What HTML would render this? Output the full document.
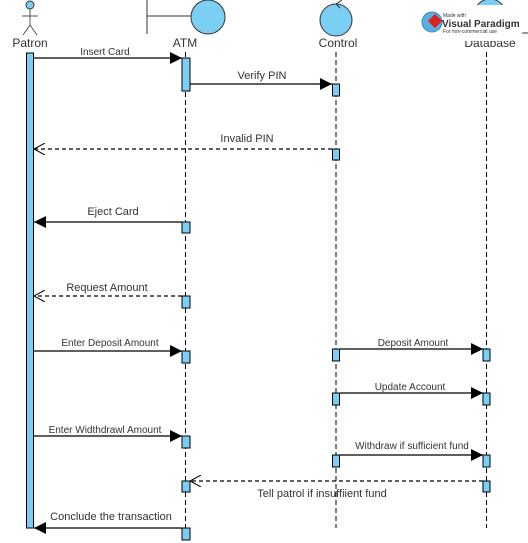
<!DOCTYPE html>
<html><head><meta charset="utf-8"><style>
html,body{margin:0;padding:0;background:#fff;width:528px;height:543px;overflow:hidden}
svg{display:block}
text{font-family:"Liberation Sans",sans-serif;fill:#333}
</style></head><body>
<svg width="528" height="543" viewBox="0 0 528 543" xmlns="http://www.w3.org/2000/svg">
<defs>
<marker id="f" markerWidth="12" markerHeight="12" refX="12" refY="6" orient="auto" markerUnits="userSpaceOnUse"><path d="M0,0 L12,6 L0,12 z" fill="#000"/></marker>
<marker id="o" markerWidth="12" markerHeight="12" refX="11" refY="6" orient="auto" markerUnits="userSpaceOnUse"><path d="M0,0 L11,6 L0,12" fill="none" stroke="#000" stroke-width="1"/></marker>
</defs>
<g stroke="#000" stroke-width="1" stroke-dasharray="5,3">
<line x1="185.5" y1="52" x2="185.5" y2="528"/>
<line x1="336" y1="52" x2="336" y2="528"/>
<line x1="486.5" y1="52" x2="486.5" y2="528"/>
</g>
<g stroke="#555" stroke-width="1" fill="none">
<circle cx="30" cy="5" r="4" fill="#7ccff4" stroke="#333"/>
<line x1="30" y1="9" x2="30" y2="25"/>
<line x1="22" y1="16" x2="38" y2="16"/>
<line x1="30" y1="25" x2="23" y2="35"/>
<line x1="30" y1="25" x2="37" y2="35"/>
</g>
<text x="30" y="47" font-size="12" text-anchor="middle">Patron</text>
<line x1="147" y1="0" x2="147" y2="34" stroke="#333"/>
<line x1="147" y1="16" x2="192" y2="16" stroke="#333"/>
<circle cx="208" cy="17" r="17" fill="#7ccff4" stroke="#333"/>
<text x="185" y="47" font-size="12" text-anchor="middle">ATM</text>
<circle cx="336" cy="20" r="16" fill="#7ccff4" stroke="#333"/>
<path d="M336,4 L342,0 M336,4 L340,8" stroke="#333" fill="none"/>
<text x="338" y="47" font-size="12" text-anchor="middle">Control</text>
<circle cx="490" cy="15" r="16" fill="#7ccff4" stroke="#333"/>
<line x1="508" y1="33" x2="528" y2="33" stroke="#333"/>
<text x="490" y="47" font-size="12" text-anchor="middle">Database</text>
<rect x="414" y="5" width="110" height="36" rx="15" fill="#fff"/>
<circle cx="432" cy="22" r="10" fill="#5aaee0" stroke="#3a8ac0"/>
<rect x="430" y="16" width="10" height="10" fill="#d22" transform="rotate(45 435 21)"/>
<text x="443" y="17" font-size="5" fill="#888">Made with</text>
<text x="442" y="27" font-size="10" font-weight="bold" fill="#333">Visual Paradigm</text>
<text x="443" y="33" font-size="5" fill="#999">For non-commercial use</text>
<rect x="26.5" y="53" width="7" height="475" fill="#7ccff4" stroke="#000"/>
<g fill="#7ccff4" stroke="#000" stroke-width="1">
<rect x="182" y="58" width="8" height="33"/>
<rect x="332.5" y="84" width="7" height="12"/>
<rect x="332.5" y="149" width="7" height="11"/>
<rect x="182" y="222" width="8" height="11"/>
<rect x="182" y="296" width="8" height="12"/>
<rect x="182" y="351" width="8" height="12"/>
<rect x="332.5" y="349" width="7" height="12"/>
<rect x="483" y="349" width="7" height="12"/>
<rect x="332.5" y="393" width="7" height="12"/>
<rect x="483" y="393" width="7" height="12"/>
<rect x="182" y="436" width="8" height="12"/>
<rect x="332.5" y="455" width="7" height="12"/>
<rect x="483" y="455" width="7" height="12"/>
<rect x="182" y="481" width="8" height="11"/>
<rect x="483" y="481" width="7" height="11"/>
<rect x="182" y="528" width="8" height="12"/>
</g>
<g stroke="#000" stroke-width="1.3" fill="none">
<line x1="34" y1="58" x2="182" y2="58" marker-end="url(#f)"/>
<line x1="190" y1="84" x2="332" y2="84" marker-end="url(#f)"/>
<line x1="332" y1="149" x2="34" y2="149" stroke-dasharray="4,3" marker-end="url(#o)"/>
<line x1="182" y1="222" x2="34" y2="222" marker-end="url(#f)"/>
<line x1="182" y1="296" x2="34" y2="296" stroke-dasharray="4,3" marker-end="url(#o)"/>
<line x1="34" y1="351" x2="182" y2="351" marker-end="url(#f)"/>
<line x1="340" y1="349" x2="483" y2="349" marker-end="url(#f)"/>
<line x1="340" y1="393" x2="483" y2="393" marker-end="url(#f)"/>
<line x1="34" y1="436" x2="182" y2="436" marker-end="url(#f)"/>
<line x1="340" y1="455" x2="483" y2="455" marker-end="url(#f)"/>
<line x1="483" y1="481" x2="190" y2="481" stroke-dasharray="4,3" marker-end="url(#o)"/>
<line x1="182" y1="528" x2="34" y2="528" marker-end="url(#f)"/>
</g>
<g font-size="10" text-anchor="middle">
<text x="105" y="55">Insert Card</text>
<text x="262" y="79" font-size="11">Verify PIN</text>
<text x="247" y="142" font-size="11">Invalid PIN</text>
<text x="113" y="215" font-size="11">Eject Card</text>
<text x="107" y="291" font-size="11">Request Amount</text>
<text x="110" y="346">Enter Deposit Amount</text>
<text x="413" y="346">Deposit Amount</text>
<text x="410" y="390">Update Account</text>
<text x="105" y="433">Enter Widthdrawl Amount</text>
<text x="412" y="449">Withdraw if sufficient fund</text>
<text x="322" y="497" font-size="11">Tell patrol if insuffiient fund</text>
<text x="111" y="520" font-size="11">Conclude the transaction</text>
</g>
</svg>
</body></html>
